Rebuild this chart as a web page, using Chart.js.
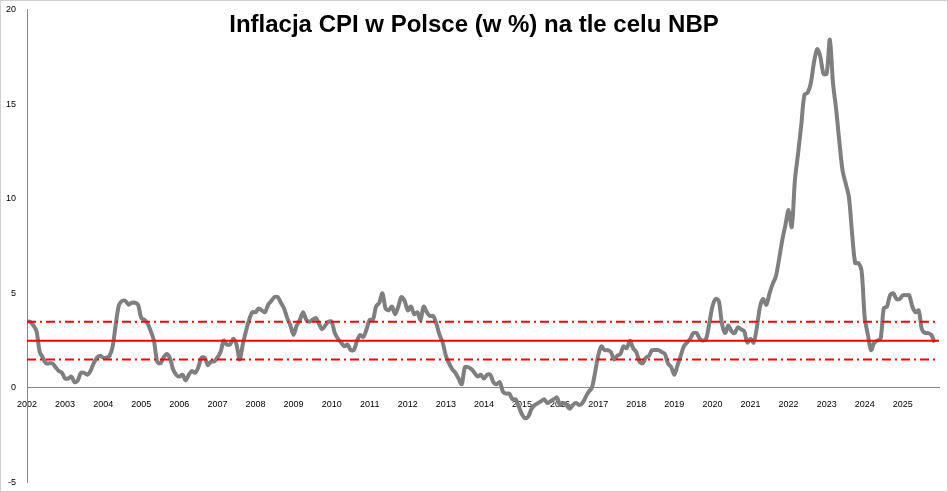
<!DOCTYPE html>
<html><head><meta charset="utf-8">
<script src="https://cdn.jsdelivr.net/npm/chart.js@4"></script>
<style>html,body{margin:0;padding:0;background:#fff}#w{width:946px;height:490px;border:1px solid #d0d0d0}</style>
</head><body><div id="w"><canvas id="c"></canvas></div>
<script>
const startYear = 2002;
const cpi = [
3.5,3.5,3.3,3.0,1.9,1.6,1.3,1.3,1.3,1.1,0.9,0.8,
0.5,0.5,0.6,0.3,0.4,0.8,0.8,0.7,0.9,1.3,1.6,1.7,
1.6,1.6,1.7,2.2,3.4,4.4,4.6,4.6,4.4,4.5,4.5,4.4,
3.7,3.6,3.4,3.0,2.5,1.4,1.3,1.6,1.8,1.6,1.0,0.7,
0.6,0.7,0.4,0.7,0.9,0.8,1.1,1.6,1.6,1.2,1.4,1.4,
1.6,1.9,2.5,2.3,2.3,2.6,2.3,1.5,2.3,3.0,3.6,4.0,
4.0,4.2,4.1,4.0,4.4,4.6,4.8,4.8,4.5,4.2,3.7,3.3,
2.8,3.3,3.6,4.0,3.6,3.5,3.6,3.7,3.4,3.1,3.3,3.5,
3.5,2.9,2.6,2.4,2.2,2.3,2.0,2.0,2.5,2.8,2.7,3.1,
3.6,3.6,4.3,4.5,5.0,4.2,4.1,4.3,3.9,4.3,4.8,4.6,
4.1,4.3,3.9,4.0,3.6,4.3,4.0,3.8,3.8,3.4,2.8,2.4,
1.7,1.3,1.0,0.8,0.5,0.2,1.1,1.1,1.0,0.8,0.6,0.7,
0.5,0.7,0.7,0.3,0.2,0.3,-0.2,-0.3,-0.3,-0.6,-0.6,-1.0,
-1.4,-1.6,-1.5,-1.1,-0.9,-0.8,-0.7,-0.6,-0.8,-0.7,-0.6,-0.5,
-0.9,-0.8,-0.9,-1.1,-0.9,-0.8,-0.9,-0.8,-0.5,-0.2,0.0,0.8,
1.7,2.2,2.0,2.0,1.9,1.5,1.7,1.8,2.2,2.1,2.5,2.1,
1.9,1.4,1.3,1.6,1.7,2.0,2.0,2.0,1.9,1.8,1.3,1.1,
0.7,1.2,1.7,2.2,2.4,2.6,2.9,2.9,2.6,2.5,2.6,3.4,
4.3,4.7,4.6,3.4,2.9,3.3,3.0,2.9,3.2,3.1,3.0,2.4,
2.6,2.4,3.2,4.3,4.7,4.4,5.0,5.5,5.9,6.8,7.8,8.6,
9.4,8.5,11.0,12.4,13.9,15.5,15.6,16.1,17.2,17.9,17.5,16.6,
16.6,18.4,16.1,14.7,13.0,11.5,10.8,10.1,8.2,6.6,6.6,6.2,
3.7,2.8,2.0,2.4,2.5,2.6,4.2,4.3,4.9,5.0,4.7,4.7,
4.9,4.9,4.9,4.3,4.0,4.1,3.1,2.9,2.9,2.8,2.4
];
const target = 2.5, bandLow = 1.5, bandHigh = 3.5;
const xMin = 2002, xMax = 2025.95;
const pts = cpi.map((v,i)=>({x: startYear + i/12, y: v}));
const hline = (v)=>[{x:xMin,y:v},{x:xMax,y:v}];
const titlePlugin = {id:'t', afterDraw(c){const ctx=c.ctx;ctx.save();ctx.font='bold 24px "Liberation Sans", Arial';ctx.fillStyle='#000';ctx.textAlign='center';ctx.textBaseline='middle';ctx.fillText('Inflacja CPI w Polsce (w %) na tle celu NBP',473,24);ctx.restore();}};
new Chart(document.getElementById('c'),{
type:'line',
data:{datasets:[
{data:hline(bandHigh),borderColor:'#ff0000',borderWidth:2,borderDash:[9,4,2,4],pointRadius:0},
{data:hline(bandLow),borderColor:'#ff0000',borderWidth:2,borderDash:[9,4,2,4],pointRadius:0},
{data:hline(target),borderColor:'#ff0000',borderWidth:2,pointRadius:0},
{data:pts,borderColor:'#7f7f7f',borderWidth:4,pointRadius:0,tension:0.3}
]},
options:{responsive:true,maintainAspectRatio:false,animation:false,
layout:{padding:{top:8,right:8,bottom:8,left:2}},
plugins:{legend:{display:false},tooltip:{enabled:false}},
scales:{
x:{type:'linear',min:xMin,max:xMax,position:{y:0},
 grid:{display:false,drawTicks:true},border:{color:'#888'},
 afterBuildTicks:(s)=>{const t=[];for(let y=2002;y<=2025;y++)t.push({value:y});s.ticks=t;},
 ticks:{autoSkip:false,font:{size:9},color:'#000',maxRotation:0,callback:v=>String(Math.round(v))}},
y:{min:-5,max:20,ticks:{stepSize:5,font:{size:9},color:'#000'},grid:{display:false},border:{color:'#888'}}
}}, plugins:[titlePlugin]});
</script></body></html>
